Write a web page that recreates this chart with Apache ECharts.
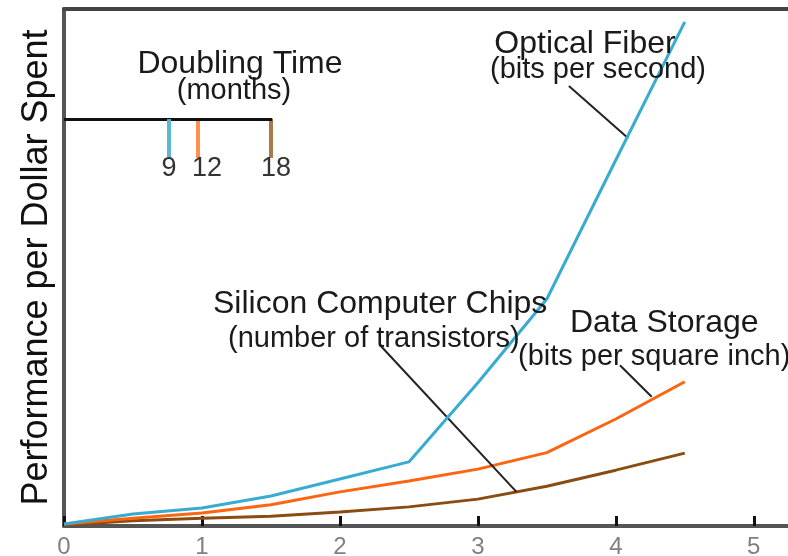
<!DOCTYPE html>
<html>
<head>
<meta charset="utf-8">
<script src="https://cdn.jsdelivr.net/npm/echarts@6/dist/echarts.min.js"></script>
<style>
  html, body { margin: 0; padding: 0; background: #ffffff; }
  #chart { width: 788px; height: 556px; }
</style>
</head>
<body>
<div id="chart"></div>
<script>
// ---- data (x = time units, y = relative performance per dollar) ----
const xValues      = [0, 0.5, 1, 1.5, 2, 2.5, 3, 3.5, 4, 4.5];
const opticalFiber = [0.4, 2.3, 3.5, 5.8, 9.1, 12.4, 27.7, 43.9, 70.8, 97.5];
const dataStorage  = [0.4, 1.5, 2.5, 4.1, 6.6, 8.7, 11.0, 14.2, 20.7, 27.9];
const siliconChips = [0.2, 1.0, 1.5, 1.9, 2.7, 3.7, 5.2, 7.7, 10.8, 14.1];
const xTickLabels  = ['0', '1', '2', '3', '4', '5'];
const yTitle = 'Performance per Dollar Spent';
const doublingMonths = ['9', '12', '18'];

// ---- annotations (data coordinates) ----
const leaderFiber   = [[3.66, 85.1], [4.09, 75.0]];
const leaderSilicon = [[2.29, 35.0], [3.28, 6.6]];
const leaderStorage = [[4.03, 31.1], [4.26, 25.0]];
const legendBar     = [[0, 78.7], [1.51, 78.7]];
const legendTicksX  = [0.76, 0.97, 1.5];
const legendTickY   = [78.7, 71.2];

const C_FIBER = '#37acd0';
const C_STORAGE = '#ff6410';
const C_CHIPS = '#8a4c10';
const FONT = '"Liberation Sans", Arial, sans-serif';

function pairs(ys) { return xValues.map((x, i) => [x, ys[i]]); }
function seg(p, color, width) {
  return [{ coord: p[0], lineStyle: { color: color, width: width, type: 'solid' } }, { coord: p[1] }];
}
function vtick(i, color) {
  return seg([[legendTicksX[i], legendTickY[0]], [legendTicksX[i], legendTickY[1]]], color, 4);
}
function ml(items) {
  return { silent: true, symbol: ['none', 'none'], label: { show: false }, animation: false, data: items };
}
function txt(text, x, y, size, align, color) {
  return { type: 'text', silent: true, z: 100,
    style: { text: text, x: x, y: y, font: size + 'px ' + FONT, fontSize: size, fontFamily: FONT,
      fill: color || '#1a1a1a', align: align, textAlign: align, verticalAlign: 'middle', textVerticalAlign: 'middle' } };
}

const chart = echarts.init(document.getElementById('chart'), null, { renderer: 'canvas' });
chart.setOption({
  animation: false,
  backgroundColor: '#ffffff',
  grid: { left: 64, right: -3, top: 9, bottom: 30, containLabel: false, outerBoundsMode: 'none' },
  xAxis: [{
    type: 'value', min: 0, max: 5.27, interval: 1,
    axisLine: { show: true, lineStyle: { color: '#555555', width: 4 } },
    axisTick: { show: true, inside: true, length: 10, lineStyle: { color: '#111111', width: 3 } },
    axisLabel: { show: true, margin: 9, fontSize: 24, fontFamily: FONT, color: '#808080', showMaxLabel: false,
      formatter: v => (Number.isInteger(v) && xTickLabels[v] !== undefined) ? xTickLabels[v] : '' },
    splitLine: { show: false }
  }, {
    type: 'value', position: 'top', min: 0, max: 5.27,
    axisLine: { show: true, lineStyle: { color: '#444444', width: 4 } },
    axisTick: { show: false }, axisLabel: { show: false }, splitLine: { show: false }
  }],
  yAxis: {
    type: 'value', min: 0, max: 100,
    name: yTitle, nameLocation: 'middle', nameRotate: 90, nameGap: 9,
    nameTextStyle: { fontSize: 36, fontFamily: FONT, color: '#111111' },
    axisLine: { show: true, lineStyle: { color: '#555555', width: 4 } },
    axisTick: { show: false }, axisLabel: { show: false }, splitLine: { show: false }
  },
  series: [
    { type: 'line', name: 'Silicon Computer Chips', data: pairs(siliconChips), showSymbol: false, symbol: 'none',
      lineStyle: { color: C_CHIPS, width: 3 }, itemStyle: { color: C_CHIPS }, z: 3,
      markLine: ml([seg(leaderSilicon, '#222222', 2), vtick(2, '#a87a48')]) },
    { type: 'line', name: 'Data Storage', data: pairs(dataStorage), showSymbol: false, symbol: 'none',
      lineStyle: { color: C_STORAGE, width: 3 }, itemStyle: { color: C_STORAGE }, z: 4,
      markLine: ml([seg(leaderStorage, '#222222', 2), vtick(1, '#ff9050')]) },
    { type: 'line', name: 'Optical Fiber', data: pairs(opticalFiber), showSymbol: false, symbol: 'none',
      lineStyle: { color: C_FIBER, width: 3 }, itemStyle: { color: C_FIBER }, z: 5,
      markLine: ml([seg(leaderFiber, '#222222', 2), seg(legendBar, '#111111', 3), vtick(0, '#5ab8d4')]) }
  ],
  graphic: [
    txt('Doubling Time', 240, 64, 32, 'center'),
    txt('(months)', 234, 91, 29, 'center'),
    txt(doublingMonths[0], 169, 169, 27, 'center', '#333333'),
    txt(doublingMonths[1], 207, 169, 27, 'center', '#333333'),
    txt(doublingMonths[2], 276, 169, 27, 'center', '#333333'),
    txt('Optical Fiber', 585, 44, 32, 'center'),
    txt('(bits per second)', 598, 70, 29, 'center'),
    txt('Silicon Computer Chips', 213, 304, 32, 'left'),
    txt('(number of transistors)', 228, 339, 29, 'left'),
    txt('Data Storage', 570, 323, 32, 'left'),
    txt('(bits per square inch)', 518, 357, 29, 'left')
  ]
});
</script>
</body>
</html>
